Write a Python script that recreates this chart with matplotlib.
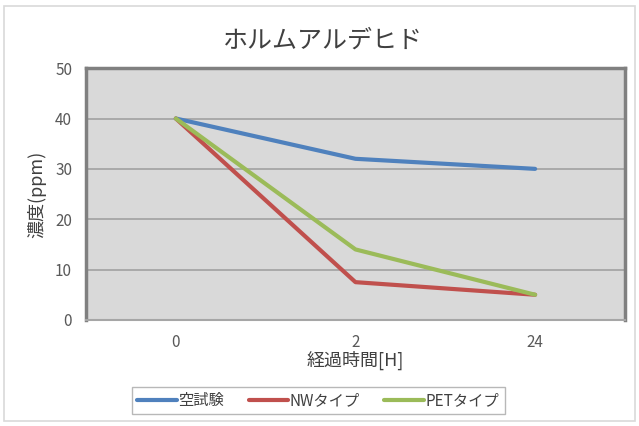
import matplotlib
matplotlib.use("Agg")
import matplotlib.pyplot as plt
from matplotlib.patches import Rectangle

plt.rcParams['font.family'] = ['Noto Sans CJK JP', 'DejaVu Sans']

categories = ["0", "2", "24"]
blank = [40, 32, 30]
nw = [40, 7.5, 5]
pet = [40, 14, 5]
series_names = ["空試験", "NWタイプ", "PETタイプ"]
colors = ["#4F81BD", "#C0504D", "#9BBB59"]

fig = plt.figure(figsize=(6.39, 4.26), dpi=100)
fig.patches.append(Rectangle((0.006, 0.012), 0.988, 0.975, transform=fig.transFigure,
                             fill=False, edgecolor="#d9d9d9", linewidth=1.2))
ax = fig.add_axes([0.1346, 0.249, 0.8434, 0.591])
ax.set_facecolor("#d9d9d9")

x = range(len(categories))
for vals, name, c in zip([blank, nw, pet], series_names, colors):
    ax.plot(x, vals, color=c, linewidth=3, label=name, solid_capstyle="round")

ax.set_xlim(-0.5, 2.5)
ax.set_ylim(0, 50)
ax.set_yticks([0, 10, 20, 30, 40, 50])
ax.set_xticks(list(x))
ax.set_xticklabels(categories)
ax.grid(axis="y", color="#a6a6a6", linewidth=1.3)
ax.set_axisbelow(True)
ax.tick_params(length=0, labelsize=11, labelcolor="#595959", pad=10)
ax.tick_params(axis="x", pad=10)

for s in ["top", "left", "right"]:
    ax.spines[s].set_color("#808080")
    ax.spines[s].set_linewidth(2.5)
ax.spines["bottom"].set_color("#a6a6a6")
ax.spines["bottom"].set_linewidth(1.5)

# title sits a bit left of the axes centre, like the original
fig.text(0.505, 0.905, "ホルムアルデヒド", fontsize=18, color="#404040",
         ha="center", va="center")
ax.set_xlabel("経過時間[H]", fontsize=13, color="#404040", labelpad=0)
ax.set_ylabel("濃度(ppm)", fontsize=13, color="#404040", labelpad=6)

leg = fig.legend(loc="center", bbox_to_anchor=(0.498, 0.06), ncol=3, fontsize=11,
                 frameon=True, fancybox=False, handlelength=2.6, columnspacing=1.6,
                 handletextpad=0.1, borderpad=0.35)
leg.get_frame().set_edgecolor("#a6a6a6")
for t in leg.get_texts():
    t.set_color("#404040")

fig.savefig("out.png", dpi=100)
